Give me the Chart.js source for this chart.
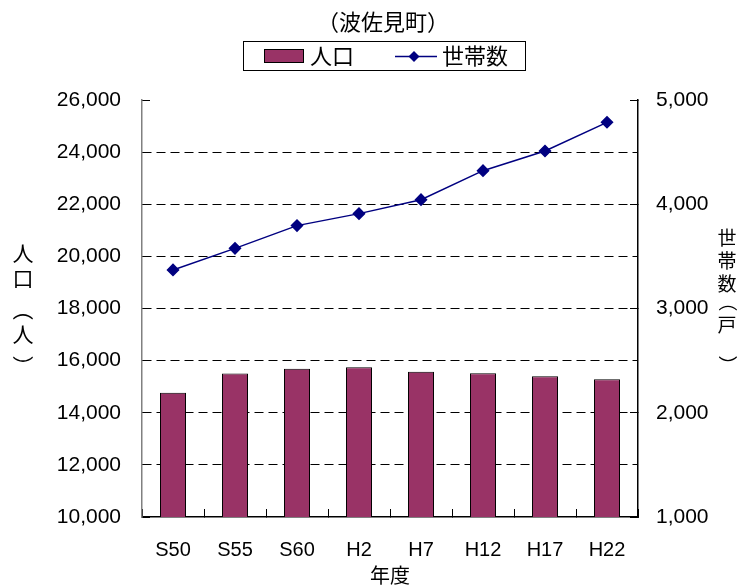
<!DOCTYPE html>
<html>
<head>
<meta charset="utf-8">
<script src="https://cdn.jsdelivr.net/npm/chart.js@4.4.1/dist/chart.umd.min.js"></script>
<style>
  html, body { margin: 0; padding: 0; background: #fff; }
  #wrap { width: 740px; height: 587px; }
</style>
</head>
<body>
<div id="wrap"><canvas id="chart" width="740" height="587"></canvas></div>
<script>
const years = ["S50", "S55", "S60", "H2", "H7", "H12", "H17", "H22"];
const population = [14770, 15510, 15690, 15745, 15575, 15515, 15400, 15285];
const households = [3370, 3577, 3795, 3910, 4044, 4322, 4511, 4786];

const leftTicks = { min: 10000, max: 26000, step: 2000 };
const rightTicks = { min: 1000, max: 5000, step: 1000 };

const FONT = '"Liberation Sans", "Noto Sans CJK JP", Arial, sans-serif';
const CJK = '"Noto Sans CJK JP", "Liberation Sans", sans-serif';

// draws one column of characters, brackets turned for vertical text
function drawVertical(ctx, chars, x, ys, size) {
  ctx.font = size + "px " + CJK;
  ctx.textAlign = "center";
  ctx.textBaseline = "middle";
  chars.forEach((ch, i) => {
    ctx.save();
    ctx.translate(x, ys[i]);
    if (ch === "（" || ch === "）") ctx.rotate(Math.PI / 2);
    ctx.fillText(ch, 0, 0);
    ctx.restore();
  });
}

const decorations = {
  id: "decorations",
  beforeDraw(chart) {
    const ctx = chart.ctx;
    ctx.save();
    ctx.fillStyle = "#fff";
    ctx.fillRect(0, 0, chart.width, chart.height);
    ctx.restore();
  },
  afterDraw(chart) {
    const ctx = chart.ctx;
    const area = chart.chartArea;
    ctx.save();
    ctx.fillStyle = "#000";

    // title
    ctx.font = "22px " + CJK;
    ctx.textAlign = "center";
    ctx.textBaseline = "middle";
    ctx.fillText("（波佐見町）", 383, 22);

    // legend box
    ctx.strokeStyle = "#000";
    ctx.lineWidth = 1;
    ctx.strokeRect(243.5, 41.5, 282, 29);
    ctx.fillStyle = "#993366";
    ctx.fillRect(264, 49, 40, 13);
    ctx.strokeRect(264.5, 49.5, 39, 13);
    ctx.fillStyle = "#000";
    ctx.font = "22px " + CJK;
    ctx.textAlign = "left";
    ctx.fillText("人口", 310, 56);
    ctx.strokeStyle = "#000080";
    ctx.lineWidth = 1.5;
    ctx.beginPath();
    ctx.moveTo(395, 56.5);
    ctx.lineTo(437, 56.5);
    ctx.stroke();
    ctx.fillStyle = "#000080";
    ctx.beginPath();
    ctx.moveTo(414, 51);
    ctx.lineTo(419.5, 56.5);
    ctx.lineTo(414, 62);
    ctx.lineTo(408.5, 56.5);
    ctx.closePath();
    ctx.fill();
    ctx.fillStyle = "#000";
    ctx.fillText("世帯数", 442, 56);

    // axis titles
    drawVertical(ctx, ["人", "口", "（", "人", "）"], 23, [253, 278, 310, 334, 366], 21);
    drawVertical(ctx, ["世", "帯", "数", "（", "戸", "）"], 727, [238, 261, 284, 302, 325, 365], 19);

    ctx.font = "20px " + CJK;
    ctx.textAlign = "center";
    ctx.fillText("年度", (area.left + area.right) / 2, 575);
    ctx.restore();
  }
};

const gridColor = (ctx) => {
  const v = ctx.tick && ctx.tick.value;
  return (v === leftTicks.min || v === leftTicks.max) ? "rgba(0,0,0,0)" : "#000";
};

const chart = new Chart(document.getElementById("chart").getContext("2d"), {
  type: "bar",
  data: {
    labels: years,
    datasets: [
      {
        type: "line",
        label: "世帯数",
        data: households,
        yAxisID: "y1",
        borderColor: "#000080",
        borderWidth: 1.5,
        pointStyle: "rectRot",
        pointRadius: 5.5,
        pointBackgroundColor: "#000080",
        pointBorderColor: "#000080",
        tension: 0,
        order: 1
      },
      {
        label: "人口",
        data: population,
        yAxisID: "y",
        backgroundColor: "#993366",
        borderColor: "#000",
        borderWidth: 1,
        barPercentage: 0.42,
        categoryPercentage: 1,
        order: 2
      }
    ]
  },
  plugins: [decorations],
  options: {
    responsive: false,
    animation: false,
    layout: { padding: { top: 100, left: 0, right: 0, bottom: 0 } },
    plugins: {
      legend: { display: false },
      title: { display: false },
      tooltip: { enabled: false }
    },
    scales: {
      x: {
        offset: true,
        grid: {
          display: true,
          offset: true,
          drawOnChartArea: false,
          drawTicks: true,
          tickLength: -8,
          tickColor: "#000"
        },
        border: { color: "#000", width: 1.5 },
        ticks: { color: "#000", font: { family: FONT, size: 20 }, padding: 29, maxRotation: 0 },
        afterFit(scale) { scale.height = 70; }
      },
      y: {
        position: "left",
        min: leftTicks.min,
        max: leftTicks.max,
        ticks: {
          stepSize: leftTicks.step,
          color: "#000",
          font: { family: FONT, size: 21 },
          padding: 29,
          callback: (v) => v.toLocaleString("en-US")
        },
        grid: {
          color: gridColor,
          lineWidth: 1,
          drawTicks: true,
          tickLength: -8,
          tickColor: "#000",
          tickBorderDash: []
        },
        border: { color: "#808080", width: 1.5, dash: [9, 5] },
        afterFit(scale) { scale.width = 142; }
      },
      y1: {
        position: "right",
        min: rightTicks.min,
        max: rightTicks.max,
        ticks: {
          stepSize: rightTicks.step,
          color: "#000",
          font: { family: FONT, size: 21 },
          padding: 26,
          callback: (v) => v.toLocaleString("en-US")
        },
        grid: {
          drawOnChartArea: false,
          drawTicks: true,
          tickLength: -8,
          tickColor: "#000"
        },
        border: { color: "#000", width: 1.5 },
        afterFit(scale) { scale.width = 102; }
      }
    }
  }
});
</script>
</body>
</html>
